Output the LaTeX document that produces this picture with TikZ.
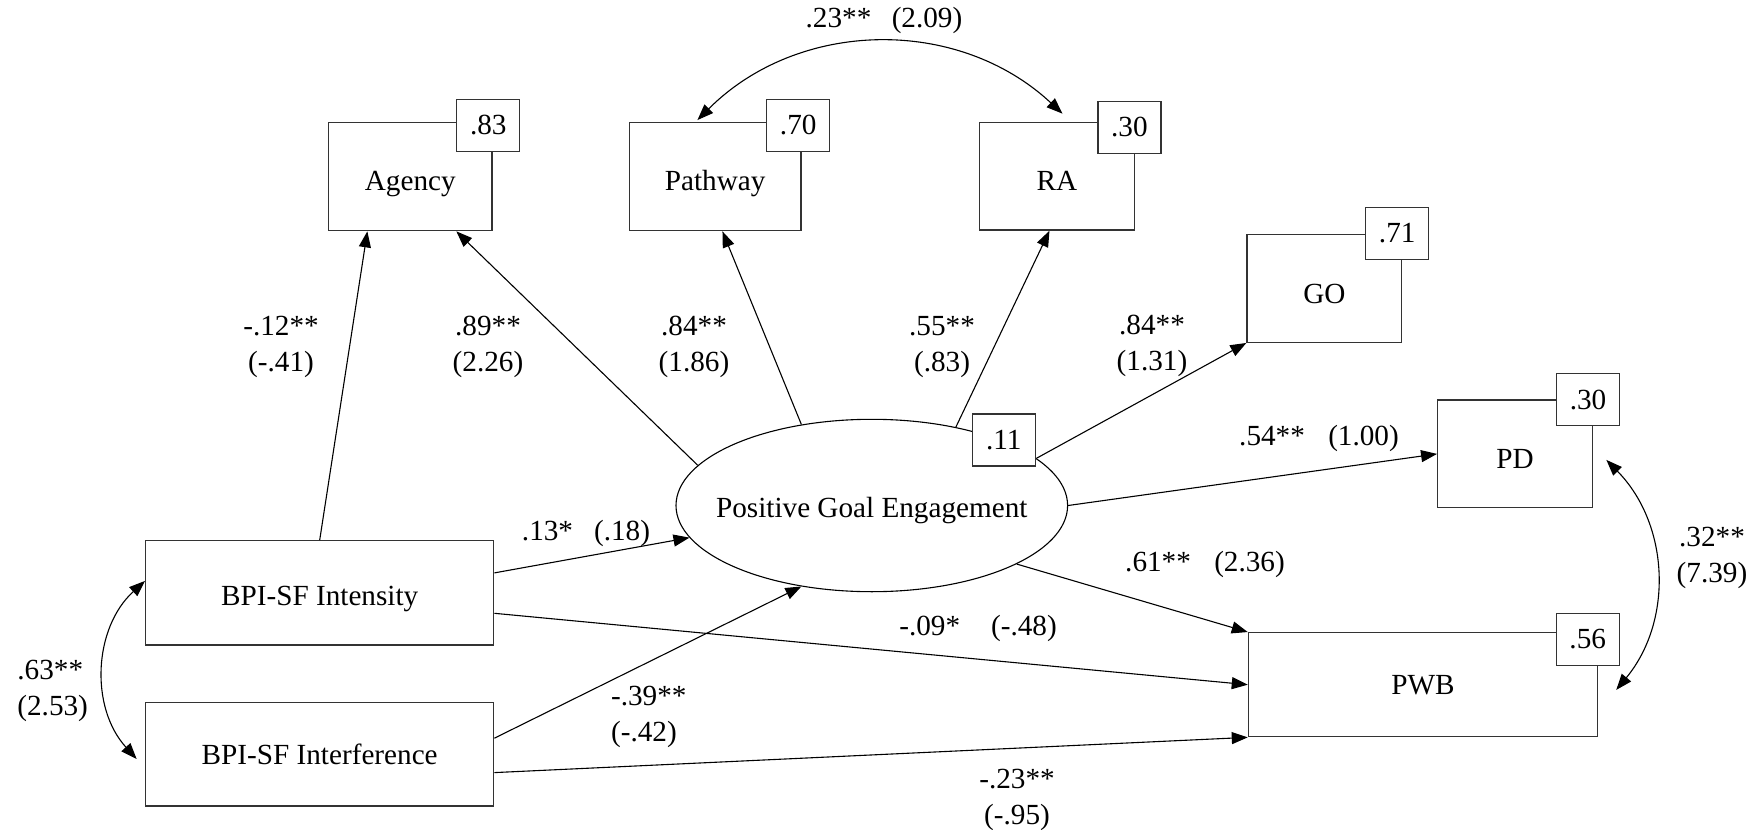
\documentclass[tikz,border=0pt]{standalone}
\usepackage{fontspec}
\setmainfont{Liberation Serif}
\usetikzlibrary{arrows.meta,shapes.geometric,calc}
\begin{document}
\begin{tikzpicture}[x=0.5pt,y=0.5pt,
  font=\fontsize{14.6}{18}\selectfont,
  box/.style={draw=black!80, line width=0.65pt, inner sep=0pt, fill=white},
  tdown/.style={text height=#1, text depth=0pt},
  res/.style={draw=black!80, line width=0.65pt, fill=white, minimum width=31.5pt, minimum height=26pt, inner sep=0pt},
  path/.style={draw, line width=0.55pt, -{Triangle[length=8pt,width=6pt]}},
  cov/.style={draw, line width=0.55pt, {Triangle[length=8pt,width=6pt]}-{Triangle[length=8pt,width=6pt]}},
  lab/.style={inner sep=0pt, align=center}]
\useasboundingbox (0,0) rectangle (1763,-830);

% main boxes
\node[box, tdown=14.2pt, minimum width=81.7pt, minimum height=54pt] (agency) at (410.3,-176.7) {Agency};
\node[box, tdown=14.2pt, minimum width=85.9pt, minimum height=54pt] (pathway) at (715.2,-176.7) {Pathway};
\node[box, tdown=14.2pt, minimum width=77.5pt, minimum height=53.7pt] (ra) at (1056.8,-176.4) {RA};
\node[box, tdown=15pt, minimum width=77.4pt, minimum height=53.8pt] (go) at (1324.4,-288.5) {GO};
\node[box, tdown=15pt, minimum width=77.4pt, minimum height=53.9pt] (pd) at (1515.1,-453.9) {PD};
\node[box, minimum width=174.5pt, minimum height=52pt] (pwb) at (1422.9,-684.7) {PWB};
\node[box, tdown=13pt, minimum width=174pt, minimum height=52.2pt] (int) at (319.7,-592.9) {BPI-SF Intensity};
\node[box, minimum width=174pt, minimum height=51.9pt] (intf) at (319.7,-754.2) {BPI-SF Interference};
\node[draw, ellipse, line width=0.55pt, tdown=11.6pt, minimum width=195.8pt, minimum height=86.2pt, inner sep=0pt] (pge) at (871.8,-505.5) {\makebox[0pt]{Positive Goal Engagement}};

% paths
\draw[path] (int.north) -- ([xshift=19.7pt]agency.south west);
\draw[path] (pge.167) -- ([xshift=64.2pt]agency.south west);
\draw[path] (pge.131) -- ([xshift=46.9pt]pathway.south west);
\draw[path] (pge.43) -- ([xshift=35.4pt]ra.south west);
\draw[path] (pge.16) -- (go.south west);
\draw[path] (pge.east) -- (pd.west);
\draw[path] (pge.-22) -- (pwb.north west);
\draw[path] ([yshift=10pt]int.east) -- (pge.190);
\draw[path] ([yshift=-10.2pt]int.east) -- (pwb.west);
\draw[path] ([yshift=8pt]intf.east) -- (pge.229);
\draw[path] ([yshift=-9.2pt]intf.east) -- (pwb.south west);

% covariances
\draw[cov] ([xshift=34.4pt,yshift=1pt]pathway.north west) to[bend left=44] ([xshift=41.9pt,yshift=4.2pt]ra.north west);
\draw[cov] ([xshift=6.6pt,yshift=-3pt]pd.east) to[bend left=42] ([xshift=9.1pt,yshift=-2.6pt]pwb.east);
\draw[cov] ([yshift=6pt]int.west) to[bend right=45] ([xshift=-4.2pt,yshift=-2.4pt]intf.west);

% residual boxes
\node[res] (agencyR) at (488.3,-125.3) {.83};
\node[res] (pathwayR) at (798.2,-125.3) {.70};
\node[res] (raR) at (1129.4,-127.3) {.30};
\node[res] (goR) at (1397.2,-233.3) {.71};
\node[res] (pdR) at (1588,-399.7) {.30};
\node[res] (pwbR) at (1587.7,-639.2) {.56};
\node[res] (pgeR) at (1003.7,-440) {.11};

% labels
\node[lab] (l1) at (281,-347) {-.12**\\(-.41)};
\node[lab] (l2) at (488,-347) {.89**\\(2.26)};
\node[lab] (l3) at (694,-347) {.84**\\(1.86)};
\node[lab] (l4) at (942,-347) {.55**\\(.83)};
\node[lab] (l5) at (1152,-346) {.84**\\(1.31)};
\node[lab] (l6) at (1319,-438) {.54**\hspace{0.8em}(1.00)};
\node[lab] (l7) at (1205,-564) {.61**\hspace{0.8em}(2.36)};
\node[lab] (l8) at (978,-628) {-.09*\hspace{1.06em}(-.48)};
\node[lab] (l9) at (1017,-800) {-.23**\\(-.95)};
\node[lab, align=left, anchor=west] (l10) at (610.7,-717) {-.39**\\(-.42)};
\node[lab] (l11) at (586,-533) {.13*\hspace{0.72em}(.18)};
\node[lab] (l12) at (884,-20) {.23**\hspace{0.7em}(2.09)};
\node[lab, align=left, anchor=west] (l13) at (17,-691) {.63**\\(2.53)};
\node[lab] (l14) at (1712,-558) {.32**\\(7.39)};
\end{tikzpicture}
\end{document}
